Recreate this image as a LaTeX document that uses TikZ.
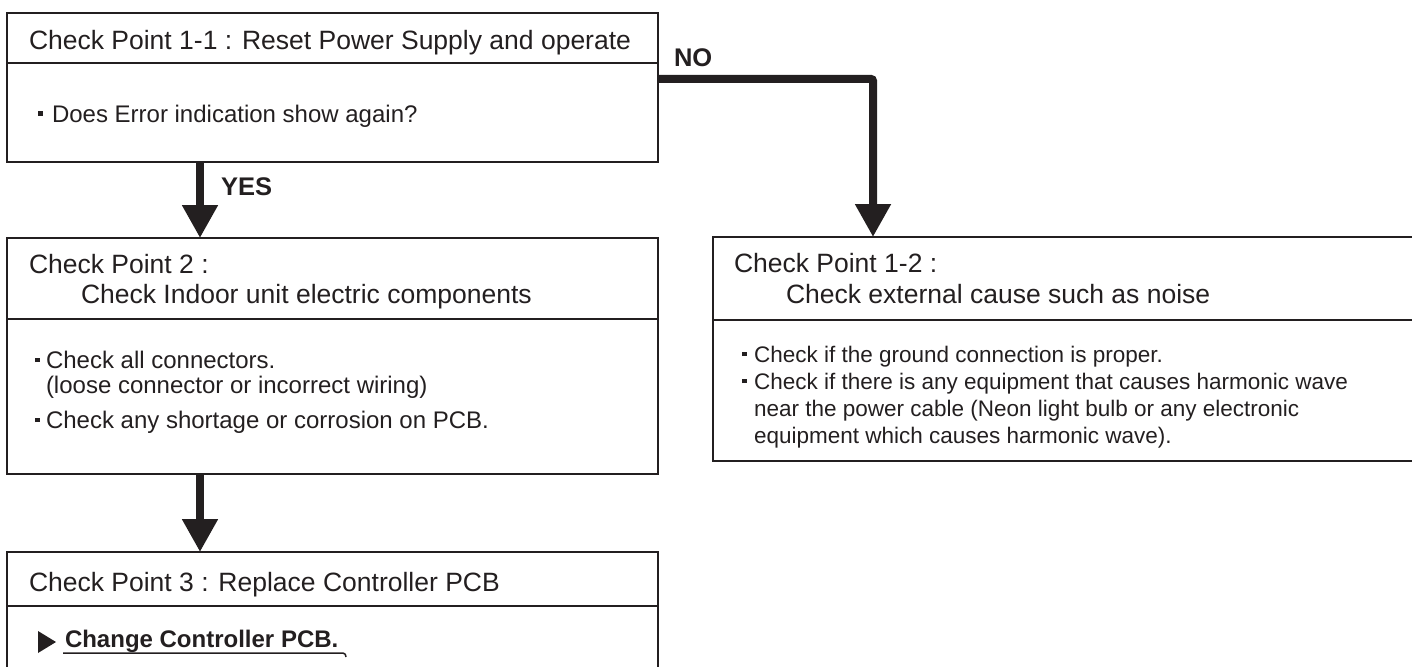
\documentclass[tikz,border=0pt]{standalone}
\usepackage{fontspec}
\setmainfont{Liberation Sans}
\usetikzlibrary{arrows.meta}
\definecolor{ink}{HTML}{231F20}
\newcommand{\tfnt}{\fontsize{26.5pt}{30pt}\selectfont}
\newcommand{\bfnt}{\fontsize{24pt}{28pt}\selectfont}
\newcommand{\sfnt}{\fontsize{22.5pt}{27pt}\selectfont}
\newcommand{\bulsq}[1]{\makebox[#1][l]{\raisebox{6pt}{\rule{4.5pt}{4.5pt}}}}
\tikzset{
  frame/.style={draw=ink, line width=2pt, rectangle, anchor=north west, inner sep=0pt, outer sep=0pt},
  divline/.style={draw=ink, line width=1.5pt},
  txt/.style={anchor=base west, inner sep=0pt, outer sep=0pt, text=ink},
  bigarrow/.style={draw=ink, line width=8pt, -{Triangle[width=34pt,length=33pt]}, ink},
}
\begin{document}
\begin{tikzpicture}[x=1pt,y=-1pt]
\useasboundingbox (0,0) rectangle (1412,666);
% boxes
\node[frame, minimum width=651pt, minimum height=149pt] (b1) at (7,13) {};
\node[frame, minimum width=651pt, minimum height=236pt] (b2) at (7,238) {};
\node[frame, minimum width=651pt, minimum height=138pt] (b3) at (7,552) {};
\node[frame, minimum width=707pt, minimum height=224pt] (b4) at (713,237) {};
% dividers
\draw[divline] (7,63) -- (658,63);
\draw[divline] (7,319) -- (658,319);
\draw[divline] (7,606) -- (658,606);
\draw[divline] (713,320) -- (1420,320);
% texts
\node[txt] (t1) at (29,50) {\tfnt Check Point 1-1 : Reset Power Supply and operate};
\node[txt] (t1b) at (38,122) {\bfnt\bulsq{14pt}Does Error indication show again?};
\node[txt] (t2a) at (29,273) {\tfnt Check Point 2 :};
\node[txt] (t2b) at (81,303) {\tfnt Check Indoor unit electric components};
\node[txt] (t2c) at (35,368) {\bfnt\bulsq{11pt}Check all connectors.};
\node[txt] (t2d) at (46,393) {\bfnt (loose connector or incorrect wiring)};
\node[txt] (t2e) at (35,428) {\bfnt\bulsq{11pt}Check any shortage or corrosion on PCB.};
\node[txt] (t3a) at (29,591) {\tfnt Check Point 3 : Replace Controller PCB};
\node[txt] (t3b) at (65,647) {\bfnt\bfseries Change Controller PCB.};
\node[txt] (t4a) at (734,272) {\tfnt Check Point 1-2 :};
\node[txt] (t4b) at (786,303) {\tfnt Check external cause such as noise};
\node[txt] (t4c) at (742,362) {\sfnt\bulsq{12pt}Check if the ground connection is proper.};
\node[txt] (t4d) at (742,389) {\sfnt\bulsq{12pt}Check if there is any equipment that causes harmonic wave};
\node[txt] (t4e) at (754,416) {\sfnt near the power cable (Neon light bulb or any electronic};
\node[txt] (t4f) at (754,443) {\sfnt equipment which causes harmonic wave).};
\node[txt] (yes) at (221,195) {\fontsize{25.5pt}{30pt}\selectfont\bfseries YES};
\node[txt] (no) at (674,67) {\fontsize{25.5pt}{30pt}\selectfont\bfseries NO};
% triangle and underline
\fill[ink] (38,631) -- (56,642) -- (38,653) -- cycle;
\draw[ink, line width=1.5pt] (63,653) -- (343,653) to[out=0,in=90] (346,657);
% connectors
\draw[bigarrow] ([xshift=193pt]b1.south west) -- ([xshift=193pt]b2.north west);
\draw[bigarrow] ([xshift=193pt]b2.south west) -- ([xshift=193pt]b3.north west);
\draw[bigarrow, rounded corners=2pt] ([yshift=-66pt]b1.north east) -| ([xshift=160pt]b4.north west);
\end{tikzpicture}
\end{document}
